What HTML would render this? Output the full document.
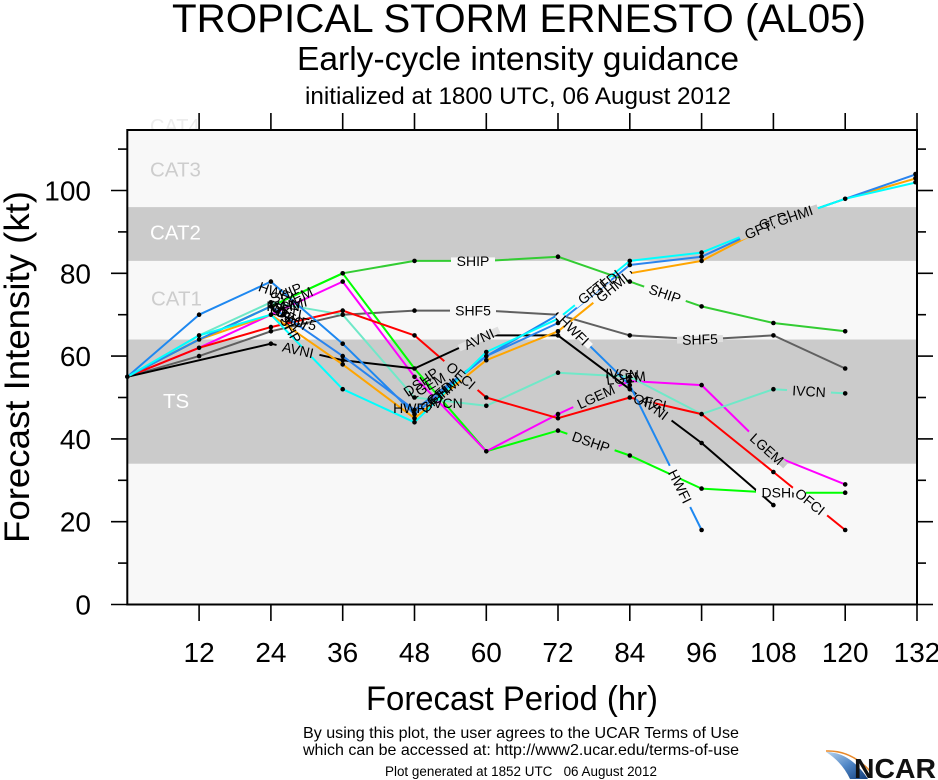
<!DOCTYPE html>
<html>
<head>
<meta charset="utf-8">
<style>
html,body{margin:0;padding:0;background:#fff;}
svg{display:block;}
text{font-family:"Liberation Sans",Arial,Helvetica,sans-serif;}
.lbl{font-size:14px;fill:#000;}
</style>
</head>
<body>
<svg width="938" height="780" viewBox="0 0 938 780" xmlns="http://www.w3.org/2000/svg">
<defs>
  <clipPath id="plot"><rect x="127.3" y="130" width="789.7" height="474.5"/></clipPath>
  <linearGradient id="sw" x1="0" y1="0" x2="1" y2="1">
    <stop offset="0" stop-color="#b8d4ee"/>
    <stop offset="0.5" stop-color="#4f86c6"/>
    <stop offset="1" stop-color="#123d7a"/>
  </linearGradient>
</defs>
<rect width="938" height="780" fill="#fff"/>

<!-- Titles -->
<text x="519" y="32" font-size="40" text-anchor="middle" textLength="694" lengthAdjust="spacingAndGlyphs">TROPICAL STORM ERNESTO (AL05)</text>
<text x="518" y="70" font-size="33.5" text-anchor="middle" textLength="442" lengthAdjust="spacingAndGlyphs">Early-cycle intensity guidance</text>
<text x="518" y="104" font-size="24" text-anchor="middle" textLength="426" lengthAdjust="spacingAndGlyphs">initialized at 1800 UTC, 06 August 2012</text>

<!-- faint CAT4 -->
<text x="150" y="133" font-size="20" fill="#ececec">CAT4</text>

<!-- Plot background and bands -->
<rect x="127.3" y="130" width="789.7" height="474.5" fill="#f8f8f8"/>
<rect x="127.3" y="339.5" width="789.7" height="124.2" fill="#cbcbcb"/>
<rect x="127.3" y="207.1" width="789.7" height="53.8" fill="#cbcbcb"/>

<text x="150" y="176.5" font-size="20.5" fill="#cdcdcd">CAT3</text>
<text x="150" y="239.5" font-size="20.5" fill="#ffffff">CAT2</text>
<text x="151" y="305.5" font-size="20.5" fill="#cdcdcd">CAT1</text>
<text x="163" y="408" font-size="20.5" fill="#ffffff">TS</text>

<g clip-path="url(#plot)" fill="none" stroke-width="2" stroke-linejoin="round">
  <polyline stroke="#606060" points="127.3,376.8 199.1,356.1 270.9,331.3 342.7,314.7 414.5,310.6 486.3,310.6 558.0,314.7 629.8,335.4 701.6,339.5 773.4,335.4 845.2,368.5"/>
  <polyline stroke="#33cc33" points="127.3,376.8 199.1,339.5 270.9,306.4 342.7,273.3 414.5,260.9 486.3,260.9 558.0,256.7 629.8,281.6 701.6,306.4 773.4,323.0 845.2,331.3"/>
  <polyline stroke="#00ff00" points="127.3,376.8 199.1,339.5 270.9,306.4 342.7,273.3 414.5,368.5 486.3,451.3 558.0,430.6 629.8,455.5 701.6,488.6 773.4,492.7 845.2,492.7"/>
  <polyline stroke="#ff00ff" points="127.3,376.8 199.1,347.8 270.9,314.7 342.7,281.6 414.5,376.8 486.3,451.3 558.0,414.1 629.8,381.0 701.6,385.1 773.4,455.5 845.2,484.4"/>
  <polyline stroke="#70e8c8" points="127.3,376.8 199.1,335.4 270.9,302.3 342.7,314.7 414.5,397.5 486.3,405.8 558.0,372.7 629.8,376.8 701.6,414.1 773.4,389.2 845.2,393.4"/>
  <polyline stroke="#ff0000" points="127.3,376.8 199.1,347.8 270.9,327.1 342.7,310.6 414.5,335.4 486.3,397.5 558.0,418.2 629.8,397.5 701.6,414.1 773.4,472.0 845.2,530.0"/>
  <polyline stroke="#000000" points="127.3,376.8 270.9,343.7 342.7,360.2 414.5,368.5 486.3,335.4 558.0,335.4 629.8,389.2 701.6,443.0 773.4,505.1"/>
  <polyline stroke="#1e88f0" points="127.3,376.8 199.1,314.7 270.9,281.6 342.7,343.7 414.5,414.1 486.3,356.1 558.0,314.7 629.8,385.1 701.6,530.0"/>
  <polyline stroke="#ffa500" points="127.3,376.8 199.1,339.5 270.9,314.7 342.7,364.4 414.5,418.2 486.3,360.2 558.0,331.3 629.8,273.3 701.6,260.9 773.4,223.6 845.2,198.8 917.0,178.1"/>
  <polyline stroke="#2a84ee" points="127.3,376.8 199.1,339.5 270.9,306.4 342.7,356.1 414.5,409.9 486.3,356.1 558.0,323.0 629.8,265.0 701.6,256.7 773.4,223.6 845.2,198.8 917.0,174.0"/>
  <polyline stroke="#00ffff" points="127.3,376.8 199.1,335.4 270.9,314.7 342.7,389.2 414.5,422.3 486.3,352.0 558.0,318.8 629.8,260.9 701.6,252.6 773.4,223.6 845.2,198.8 917.0,182.2"/>
</g>

<!-- Data dots -->
<g fill="#000">
  <circle cx="127.3" cy="376.8" r="2.3"/>
  <circle cx="199.1" cy="314.7" r="2.3"/><circle cx="199.1" cy="335.4" r="2.3"/><circle cx="199.1" cy="339.5" r="2.3"/><circle cx="199.1" cy="347.8" r="2.3"/><circle cx="199.1" cy="356.1" r="2.3"/>
  <circle cx="270.9" cy="281.6" r="2.3"/><circle cx="270.9" cy="302.3" r="2.3"/><circle cx="270.9" cy="306.4" r="2.3"/><circle cx="270.9" cy="314.7" r="2.3"/><circle cx="270.9" cy="327.1" r="2.3"/><circle cx="270.9" cy="331.3" r="2.3"/><circle cx="270.9" cy="343.7" r="2.3"/>
  <circle cx="342.7" cy="273.3" r="2.3"/><circle cx="342.7" cy="281.6" r="2.3"/><circle cx="342.7" cy="310.6" r="2.3"/><circle cx="342.7" cy="314.7" r="2.3"/><circle cx="342.7" cy="343.7" r="2.3"/><circle cx="342.7" cy="356.1" r="2.3"/><circle cx="342.7" cy="360.2" r="2.3"/><circle cx="342.7" cy="364.4" r="2.3"/><circle cx="342.7" cy="389.2" r="2.3"/>
  <circle cx="414.5" cy="260.9" r="2.3"/><circle cx="414.5" cy="310.6" r="2.3"/><circle cx="414.5" cy="335.4" r="2.3"/><circle cx="414.5" cy="368.5" r="2.3"/><circle cx="414.5" cy="376.8" r="2.3"/><circle cx="414.5" cy="397.5" r="2.3"/><circle cx="414.5" cy="409.9" r="2.3"/><circle cx="414.5" cy="414.1" r="2.3"/><circle cx="414.5" cy="418.2" r="2.3"/><circle cx="414.5" cy="422.3" r="2.3"/>
  <circle cx="486.3" cy="260.9" r="2.3"/><circle cx="486.3" cy="310.6" r="2.3"/><circle cx="486.3" cy="335.4" r="2.3"/><circle cx="486.3" cy="352.0" r="2.3"/><circle cx="486.3" cy="356.1" r="2.3"/><circle cx="486.3" cy="360.2" r="2.3"/><circle cx="486.3" cy="397.5" r="2.3"/><circle cx="486.3" cy="405.8" r="2.3"/><circle cx="486.3" cy="451.3" r="2.3"/>
  <circle cx="558.0" cy="256.7" r="2.3"/><circle cx="558.0" cy="314.7" r="2.3"/><circle cx="558.0" cy="318.8" r="2.3"/><circle cx="558.0" cy="323.0" r="2.3"/><circle cx="558.0" cy="331.3" r="2.3"/><circle cx="558.0" cy="335.4" r="2.3"/><circle cx="558.0" cy="372.7" r="2.3"/><circle cx="558.0" cy="414.1" r="2.3"/><circle cx="558.0" cy="418.2" r="2.3"/><circle cx="558.0" cy="430.6" r="2.3"/>
  <circle cx="629.8" cy="260.9" r="2.3"/><circle cx="629.8" cy="265.0" r="2.3"/><circle cx="629.8" cy="273.3" r="2.3"/><circle cx="629.8" cy="281.6" r="2.3"/><circle cx="629.8" cy="335.4" r="2.3"/><circle cx="629.8" cy="376.8" r="2.3"/><circle cx="629.8" cy="381.0" r="2.3"/><circle cx="629.8" cy="385.1" r="2.3"/><circle cx="629.8" cy="389.2" r="2.3"/><circle cx="629.8" cy="397.5" r="2.3"/><circle cx="629.8" cy="455.5" r="2.3"/>
  <circle cx="701.6" cy="252.6" r="2.3"/><circle cx="701.6" cy="256.7" r="2.3"/><circle cx="701.6" cy="260.9" r="2.3"/><circle cx="701.6" cy="306.4" r="2.3"/><circle cx="701.6" cy="339.5" r="2.3"/><circle cx="701.6" cy="385.1" r="2.3"/><circle cx="701.6" cy="414.1" r="2.3"/><circle cx="701.6" cy="443.0" r="2.3"/><circle cx="701.6" cy="488.6" r="2.3"/><circle cx="701.6" cy="530.0" r="2.3"/>
  <circle cx="773.4" cy="223.6" r="2.3"/><circle cx="773.4" cy="323.0" r="2.3"/><circle cx="773.4" cy="335.4" r="2.3"/><circle cx="773.4" cy="389.2" r="2.3"/><circle cx="773.4" cy="455.5" r="2.3"/><circle cx="773.4" cy="472.0" r="2.3"/><circle cx="773.4" cy="492.7" r="2.3"/><circle cx="773.4" cy="505.1" r="2.3"/>
  <circle cx="845.2" cy="198.8" r="2.3"/><circle cx="845.2" cy="331.3" r="2.3"/><circle cx="845.2" cy="368.5" r="2.3"/><circle cx="845.2" cy="393.4" r="2.3"/><circle cx="845.2" cy="484.4" r="2.3"/><circle cx="845.2" cy="492.7" r="2.3"/><circle cx="845.2" cy="530.0" r="2.3"/>
  <circle cx="915.5" cy="174.0" r="2.3"/><circle cx="915.5" cy="178.1" r="2.3"/><circle cx="915.5" cy="182.2" r="2.3"/>
</g>

<!-- Line labels with gaps -->
<g class="lbl">
  <g transform="translate(473,260.9)"><rect x="-22" y="-3.5" width="44" height="7" fill="#f8f8f8"/><text class="lbl" y="5" text-anchor="middle">SHIP</text></g>
  <g transform="translate(665,293.7) rotate(19)"><rect x="-22" y="-3.5" width="44" height="7" fill="#f8f8f8"/><text class="lbl" y="5" text-anchor="middle">SHIP</text></g>
  <g transform="translate(473,310.6)"><rect x="-23" y="-3.5" width="46" height="7" fill="#f8f8f8"/><text class="lbl" y="5" text-anchor="middle">SHF5</text></g>
  <g transform="translate(700,339.3) rotate(-2)"><rect x="-23" y="-3.5" width="46" height="7" fill="#e0e0e0"/><text class="lbl" y="5" text-anchor="middle">SHF5</text></g>
  <g transform="translate(479,339.0) rotate(-24.7)"><rect x="-22" y="-3.5" width="44" height="7" fill="#e0e0e0"/><text class="lbl" y="5" text-anchor="middle">AVNI</text></g>
  <g transform="translate(298,349.9) rotate(13)"><rect x="-22" y="-3.5" width="44" height="7" fill="#cbcbcb"/><text class="lbl" y="5" text-anchor="middle">AVNI</text></g>
  <g transform="translate(654,407.3) rotate(36.8)"><rect x="-22" y="-3.5" width="44" height="7" fill="#cbcbcb"/><text class="lbl" y="5" text-anchor="middle">AVNI</text></g>
  <g transform="translate(574,330.4) rotate(44.4)"><rect x="-23" y="-3.5" width="46" height="7" fill="#f8f8f8"/><text class="lbl" y="5" text-anchor="middle">HWFI</text></g>
  <g transform="translate(680,486.4) rotate(63.6)"><rect x="-23" y="-3.5" width="46" height="7" fill="#f8f8f8"/><text class="lbl" y="5" text-anchor="middle">HWFI</text></g>
  <g transform="translate(596,396.6) rotate(-24.7)"><rect x="-25" y="-3.5" width="50" height="7" fill="#cbcbcb"/><text class="lbl" y="5" text-anchor="middle">LGEM</text></g>
  <g transform="translate(767,449.0) rotate(42)"><rect x="-25" y="-3.5" width="50" height="7" fill="#cbcbcb"/><text class="lbl" y="5" text-anchor="middle">LGEM</text></g>
  <g transform="translate(591,442.0) rotate(19)"><rect x="-25" y="-3.5" width="50" height="7" fill="#cbcbcb"/><text class="lbl" y="5" text-anchor="middle">DSHP</text></g>
  <g transform="translate(781,492.7)"><rect x="-25" y="-3.5" width="50" height="7" fill="#f8f8f8"/><text class="lbl" y="5" text-anchor="middle">DSHP</text></g>
  <g transform="translate(810,501.6) rotate(38.9)"><rect x="-22" y="-3.5" width="44" height="7" fill="#f8f8f8"/><text class="lbl" y="5" text-anchor="middle">OFCI</text></g>
  <g transform="translate(461,375.5) rotate(40.9)"><rect x="-22" y="-3.5" width="44" height="7" fill="#cbcbcb"/><text class="lbl" y="5" text-anchor="middle">OFCI</text></g>
  <g transform="translate(809,391.2) rotate(3.3)"><rect x="-22" y="-3.5" width="44" height="7" fill="#cbcbcb"/><text class="lbl" y="5" text-anchor="middle">IVCN</text></g>
  <g transform="translate(592,291.4) rotate(-38.9)"><rect x="-22" y="-3.5" width="44" height="7" fill="#f8f8f8"/><text class="lbl" y="5" text-anchor="middle">GFTI</text></g>
  <g transform="translate(612,287.7) rotate(-38.9)"><rect x="-24" y="-3.5" width="48" height="7" fill="#f8f8f8"/><text class="lbl" y="5" text-anchor="middle">GHMI</text></g>
  <g transform="translate(606,283.0) rotate(-38.9)"><text class="lbl" y="5" text-anchor="middle">GFDI</text></g>

  <g transform="translate(622,374) rotate(3)"><text class="lbl" y="5" text-anchor="middle">IVCN</text></g>
  <g transform="translate(626,378) rotate(-6)"><text class="lbl" y="5" text-anchor="middle">LGEM</text></g>
  <g transform="translate(650,402) rotate(13)"><text class="lbl" y="5" text-anchor="middle">OFCI</text></g>

  <g transform="translate(760,229) rotate(-22)"><rect x="-22" y="-3.5" width="44" height="7" fill="#cbcbcb"/><text class="lbl" y="5" text-anchor="middle">GFTI</text></g>
  <g transform="translate(775,220) rotate(-20)"><text class="lbl" y="5" text-anchor="middle">GFDI</text></g>
  <g transform="translate(795,215.5) rotate(-19)"><rect x="-24" y="-3.5" width="48" height="7" fill="#cbcbcb"/><text class="lbl" y="5" text-anchor="middle">GHMI</text></g>

  <g transform="translate(276,292) rotate(20)"><text class="lbl" y="5" text-anchor="middle">HWFI</text></g>
  <g transform="translate(286,293) rotate(-22)"><text class="lbl" y="5" text-anchor="middle">SHIP</text></g>
  <g transform="translate(294,299) rotate(-25)"><text class="lbl" y="5" text-anchor="middle">LGEM</text></g>
  <g transform="translate(289,305) rotate(-12)"><text class="lbl" y="5" text-anchor="middle">GHMI</text></g>
  <g transform="translate(283,306) rotate(0)"><text class="lbl" y="5" text-anchor="middle">IVCN</text></g>
  <g transform="translate(286,312) rotate(10)"><text class="lbl" y="5" text-anchor="middle">GFTI</text></g>
  <g transform="translate(292,318) rotate(30)"><text class="lbl" y="5" text-anchor="middle">OFCI</text></g>
  <g transform="translate(299,321) rotate(16)"><text class="lbl" y="5" text-anchor="middle">SHF5</text></g>
  <g transform="translate(288,325) rotate(60)"><text class="lbl" y="5" text-anchor="middle">DSHP</text></g>
  <g transform="translate(286,316) rotate(45)"><text class="lbl" y="5" text-anchor="middle">GFDI</text></g>

  <g transform="translate(411,408) rotate(0)"><text class="lbl" y="5" text-anchor="middle">HWFI</text></g>
  <g transform="translate(421,382) rotate(-35)"><text class="lbl" y="5" text-anchor="middle">DSHP</text></g>
  <g transform="translate(427,386) rotate(-30)"><text class="lbl" y="5" text-anchor="middle">LGEM</text></g>
  <g transform="translate(441,392) rotate(-40)"><text class="lbl" y="5" text-anchor="middle">GFDI</text></g>
  <g transform="translate(446,390) rotate(-40)"><text class="lbl" y="5" text-anchor="middle">GHMI</text></g>
  <g transform="translate(434,400) rotate(-40)"><text class="lbl" y="5" text-anchor="middle">GFTI</text></g>
  <g transform="translate(446,403) rotate(0)"><text class="lbl" y="5" text-anchor="middle">IVCN</text></g>
</g>

<!-- Frame -->
<rect x="127.3" y="130" width="789.7" height="474.5" fill="none" stroke="#000" stroke-width="2"/>

<!-- Ticks -->
<g stroke="#000" stroke-width="1.6">
  <line x1="111" y1="604.5" x2="127.3" y2="604.5"/><line x1="111" y1="521.7" x2="127.3" y2="521.7"/><line x1="111" y1="438.9" x2="127.3" y2="438.9"/><line x1="111" y1="356.1" x2="127.3" y2="356.1"/><line x1="111" y1="273.3" x2="127.3" y2="273.3"/><line x1="111" y1="190.5" x2="127.3" y2="190.5"/>
  <line x1="118" y1="563.1" x2="127.3" y2="563.1"/><line x1="118" y1="480.3" x2="127.3" y2="480.3"/><line x1="118" y1="397.5" x2="127.3" y2="397.5"/><line x1="118" y1="314.7" x2="127.3" y2="314.7"/><line x1="118" y1="231.9" x2="127.3" y2="231.9"/><line x1="118" y1="149.1" x2="127.3" y2="149.1"/>
  <line x1="917" y1="604.5" x2="933" y2="604.5"/><line x1="917" y1="521.7" x2="933" y2="521.7"/><line x1="917" y1="438.9" x2="933" y2="438.9"/><line x1="917" y1="356.1" x2="933" y2="356.1"/><line x1="917" y1="273.3" x2="933" y2="273.3"/><line x1="917" y1="190.5" x2="933" y2="190.5"/>
  <line x1="917" y1="563.1" x2="926" y2="563.1"/><line x1="917" y1="480.3" x2="926" y2="480.3"/><line x1="917" y1="397.5" x2="926" y2="397.5"/><line x1="917" y1="314.7" x2="926" y2="314.7"/><line x1="917" y1="231.9" x2="926" y2="231.9"/><line x1="917" y1="149.1" x2="926" y2="149.1"/>
  <line x1="199.1" y1="604.5" x2="199.1" y2="621"/><line x1="270.9" y1="604.5" x2="270.9" y2="621"/><line x1="342.7" y1="604.5" x2="342.7" y2="621"/><line x1="414.5" y1="604.5" x2="414.5" y2="621"/><line x1="486.3" y1="604.5" x2="486.3" y2="621"/><line x1="558.0" y1="604.5" x2="558.0" y2="621"/><line x1="629.8" y1="604.5" x2="629.8" y2="621"/><line x1="701.6" y1="604.5" x2="701.6" y2="621"/><line x1="773.4" y1="604.5" x2="773.4" y2="621"/><line x1="845.2" y1="604.5" x2="845.2" y2="621"/><line x1="917.0" y1="604.5" x2="917.0" y2="621"/>
  <line x1="199.1" y1="113" x2="199.1" y2="130"/><line x1="270.9" y1="113" x2="270.9" y2="130"/><line x1="342.7" y1="113" x2="342.7" y2="130"/><line x1="414.5" y1="113" x2="414.5" y2="130"/><line x1="486.3" y1="113" x2="486.3" y2="130"/><line x1="558.0" y1="113" x2="558.0" y2="130"/><line x1="629.8" y1="113" x2="629.8" y2="130"/><line x1="701.6" y1="113" x2="701.6" y2="130"/><line x1="773.4" y1="113" x2="773.4" y2="130"/><line x1="845.2" y1="113" x2="845.2" y2="130"/><line x1="917.0" y1="113" x2="917.0" y2="130"/>
</g>

<!-- Y tick labels -->
<g font-size="28" text-anchor="end" fill="#000">
  <text x="91" y="614.5">0</text>
  <text x="91" y="531.7">20</text>
  <text x="91" y="448.9">40</text>
  <text x="91" y="366.1">60</text>
  <text x="91" y="283.3">80</text>
  <text x="91" y="200.5">100</text>
</g>

<!-- X tick labels -->
<g font-size="28" text-anchor="middle" fill="#000">
  <text x="199.1" y="662">12</text>
  <text x="270.9" y="662">24</text>
  <text x="342.7" y="662">36</text>
  <text x="414.5" y="662">48</text>
  <text x="486.3" y="662">60</text>
  <text x="558.0" y="662">72</text>
  <text x="629.8" y="662">84</text>
  <text x="701.6" y="662">96</text>
  <text x="773.4" y="662">108</text>
  <text x="845.2" y="662">120</text>
  <text x="917.0" y="662">132</text>
</g>

<!-- Axis titles -->
<text x="512" y="710" font-size="34" text-anchor="middle" textLength="292" lengthAdjust="spacingAndGlyphs">Forecast Period (hr)</text>
<text transform="translate(29,367) rotate(-90)" font-size="35" text-anchor="middle" textLength="352" lengthAdjust="spacingAndGlyphs">Forecast Intensity (kt)</text>

<!-- Footer -->
<text x="521" y="738" font-size="16" text-anchor="middle" textLength="436" lengthAdjust="spacingAndGlyphs">By using this plot, the user agrees to the UCAR Terms of Use</text>
<text x="521" y="755" font-size="16" text-anchor="middle" textLength="436" lengthAdjust="spacingAndGlyphs">which can be accessed at: http://www2.ucar.edu/terms-of-use</text>
<text x="521" y="776" font-size="13.5" text-anchor="middle" textLength="272" lengthAdjust="spacingAndGlyphs">Plot generated at 1852 UTC&#160;&#160; 06 August 2012</text>

<!-- NCAR logo -->
<path d="M826,752 Q850,752 868,779 L850,779 Q842,762 826,752 Z" fill="url(#sw)"/>
<path d="M826,751 Q851,750 870,771" fill="none" stroke="#e8892a" stroke-width="1.5"/>
<text x="936" y="778" font-size="28" font-weight="bold" text-anchor="end" fill="#111" textLength="82" lengthAdjust="spacingAndGlyphs">NCAR</text>
</svg>
</body>
</html>
